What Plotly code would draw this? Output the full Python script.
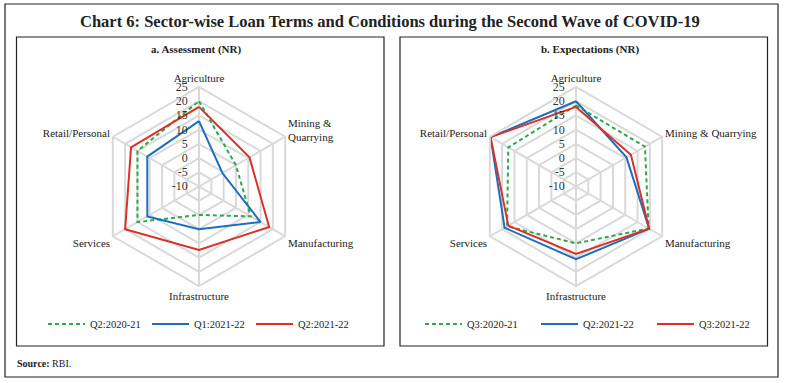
import plotly.graph_objects as go

# ---- data ----
cats_a = ["Agriculture", "Mining &<br>Quarrying", "Manufacturing", "Infrastructure", "Services", "Retail/Personal"]
cats_b = ["Agriculture", "Mining & Quarrying", "Manufacturing", "Infrastructure", "Services", "Retail/Personal"]

names_a = ["Q2:2020-21", "Q1:2021-22", "Q2:2021-22"]
a_q2_2020 = [20, 5, 11, 0, 15, 15]
a_q1_2021 = [13, -0.5, 15, 5, 11, 11]
a_q2_2021 = [18, 10.5, 18.5, 12.3, 20, 17.6]

names_b = ["Q3:2020-21", "Q2:2021-22", "Q3:2021-22"]
b_q3_2020 = [18.5, 18, 19.5, 10, 18, 17.5]
b_q2_2021 = [20, 10.5, 19.7, 15.6, 19, 24.7]
b_q3_2021 = [18, 12.3, 19.7, 13.7, 17.5, 24.7]

radial_ticks = [-10, -5, 0, 5, 10, 15, 20, 25]
radial_labels = ["-10", "-5", "0", "5", "10", "15", "20", "25"]

title_text = "Chart 6: Sector-wise Loan Terms and Conditions during the Second Wave of COVID-19"
sub_a = "a. Assessment (NR)"
sub_b = "b. Expectations (NR)"

# ---- styles ----
W, H = 785, 383
FONT = "Liberation Serif"
GREEN, BLUE, RED = "#2EA84A", "#1F6EBE", "#DA3029"
GRID = "#D9D9D9"

def closed(v):
    return list(v) + [v[0]]

def pad_label(s):
    # keep labels a little to the left of the vertical spoke (Excel style)
    return s + "\u00a0" * 3

fig = go.Figure()

series_a = [(a_q2_2020, GREEN, "4px,3px"), (a_q1_2021, BLUE, "solid"), (a_q2_2021, RED, "solid")]
series_b = [(b_q3_2020, GREEN, "4px,3px"), (b_q2_2021, BLUE, "solid"), (b_q3_2021, RED, "solid")]

for (vals, col, dash), nm in zip(series_a, names_a):
    fig.add_trace(go.Scatterpolar(r=closed(vals), theta=closed(cats_a), mode="lines", name=nm,
                                  line=dict(color=col, width=2, dash=dash), subplot="polar",
                                  legend="legend"))
for (vals, col, dash), nm in zip(series_b, names_b):
    fig.add_trace(go.Scatterpolar(r=closed(vals), theta=closed(cats_b), mode="lines", name=nm,
                                  line=dict(color=col, width=2, dash=dash), subplot="polar2",
                                  legend="legend2"))

def px_domain(cx, cy, rad):
    return dict(x=[(cx - rad) / W, (cx + rad) / W], y=[(H - cy - rad) / H, (H - cy + rad) / H])

def polar_cfg(cats, dom):
    return dict(
        domain=dom, gridshape="linear", bgcolor="rgba(0,0,0,0)",
        angularaxis=dict(type="category", categoryarray=cats, direction="clockwise", rotation=90,
                         showline=True, linecolor=GRID, linewidth=2, gridcolor=GRID, gridwidth=2,
                         ticks="", tickfont=dict(family=FONT, size=11, color="#222")),
        radialaxis=dict(range=[-10, 25], tickvals=radial_ticks, ticktext=[pad_label(t) for t in radial_labels],
                        angle=90, side="counterclockwise",
                        showline=False, gridcolor=GRID, gridwidth=2, ticks="", tickangle=90,
                        tickfont=dict(family=FONT, size=12, color="#333")),
    )

R = 99.5
fig.update_layout(
    width=W, height=H, margin=dict(l=0, r=0, t=0, b=0, autoexpand=False),
    paper_bgcolor="white", plot_bgcolor="white",
    polar=polar_cfg(cats_a, px_domain(199, 186.5, R)),
    polar2=polar_cfg(cats_b, px_domain(576, 186.5, R)),
    legend=dict(orientation="h", x=43 / W, y=1 - 324 / H, xanchor="left", yanchor="middle",
                itemwidth=37, entrywidth=52, entrywidthmode="pixels", bgcolor="rgba(0,0,0,0)",
                font=dict(family=FONT, size=10.5, color="#222")),
    legend2=dict(orientation="h", x=420 / W, y=1 - 324 / H, xanchor="left", yanchor="middle",
                 itemwidth=37, entrywidth=64, entrywidthmode="pixels", bgcolor="rgba(0,0,0,0)",
                 font=dict(family=FONT, size=10.5, color="#222")),
    showlegend=True,
)

# frames
fig.add_shape(type="rect", xref="paper", yref="paper", x0=5 / W, x1=778 / W, y0=1 - 377 / H, y1=1 - 4 / H,
              line=dict(color="#222", width=1.2), layer="below")
fig.add_shape(type="rect", xref="paper", yref="paper", x0=16.5 / W, x1=384 / W, y0=1 - 346 / H, y1=1 - 37 / H,
              line=dict(color="#222", width=1.2), layer="below")
fig.add_shape(type="rect", xref="paper", yref="paper", x0=400 / W, x1=767.5 / W, y0=1 - 346 / H, y1=1 - 37 / H,
              line=dict(color="#222", width=1.2), layer="below")

fig.add_annotation(text="<b>" + title_text + "</b>", x=390 / W, y=1 - 22 / H, xref="paper", yref="paper",
                   showarrow=False, xanchor="center", yanchor="middle",
                   font=dict(family=FONT, size=16.5, color="#222"))
fig.add_annotation(text="<b>" + sub_a + "</b>", x=196 / W, y=1 - 50 / H, xref="paper", yref="paper",
                   showarrow=False, xanchor="center", yanchor="middle",
                   font=dict(family=FONT, size=11, color="#222"))
fig.add_annotation(text="<b>" + sub_b + "</b>", x=590 / W, y=1 - 50 / H, xref="paper", yref="paper",
                   showarrow=False, xanchor="center", yanchor="middle",
                   font=dict(family=FONT, size=11, color="#222"))
fig.add_annotation(text="<b>Source:</b> RBI.", x=15 / W, y=1 - 363 / H, xref="paper", yref="paper",
                   showarrow=False, xanchor="left", yanchor="middle",
                   font=dict(family=FONT, size=10, color="#222"))

fig.write_html("out.html", config={"displayModeBar": False},
               post_script="document.body.style.margin='0';document.body.style.padding='0';")
